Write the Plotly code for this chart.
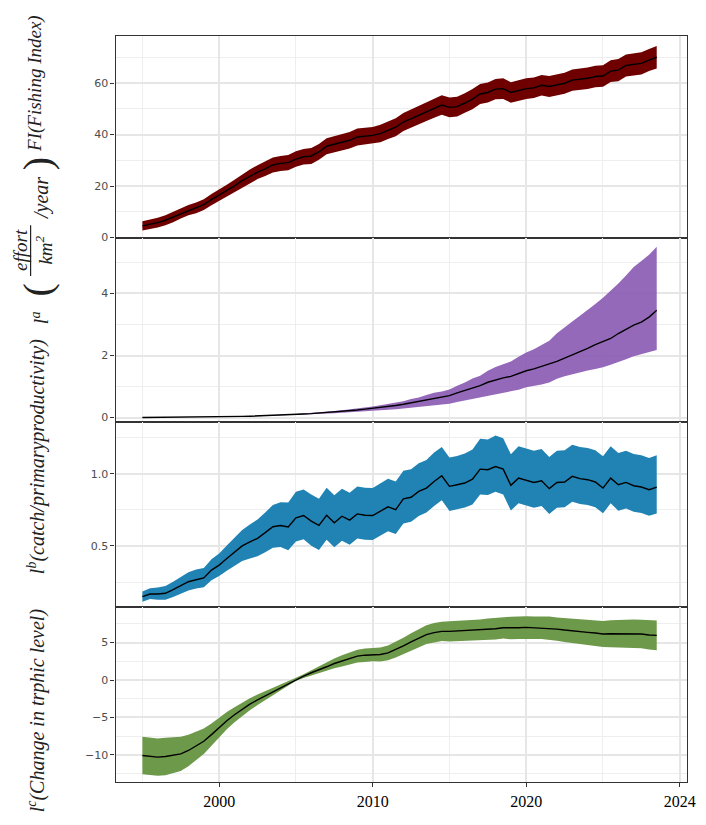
import plotly.graph_objects as go

# ---------------- data ----------------
years = [1995, 1995.5, 1996, 1996.5, 1997, 1997.5, 1998, 1998.5, 1999, 1999.5,
         2000, 2000.5, 2001, 2001.5, 2002, 2002.5, 2003, 2003.5, 2004, 2004.5,
         2005, 2005.5, 2006, 2006.5, 2007, 2007.5, 2008, 2008.5, 2009, 2009.5,
         2010, 2010.5, 2011, 2011.5, 2012, 2012.5, 2013, 2013.5, 2014, 2014.5,
         2015, 2015.5, 2016, 2016.5, 2017, 2017.5, 2018, 2018.5, 2019, 2019.5,
         2020, 2020.5, 2021, 2021.5, 2022, 2022.5, 2023, 2023.5, 2024, 2024.5,
         2025, 2025.5, 2026, 2026.5, 2027, 2027.5, 2028, 2028.5]

# Panel 1: FI (Fishing Index)
fi_mean = [4.5, 5.1, 5.8, 6.7, 7.9, 9.4, 10.6, 11.5, 12.8, 14.7,
           16.4, 18.2, 20.1, 22.1, 23.8, 25.4, 26.7, 28.2, 28.8, 29.1,
           30.5, 31.4, 31.7, 33.3, 35.5, 36.3, 37.2, 37.8, 39.1, 39.5,
           39.7, 40.4, 41.7, 42.9, 44.9, 46.2, 47.7, 49.0, 50.3, 51.5,
           50.6, 50.9, 52.3, 53.8, 55.8, 56.4, 57.7, 57.9, 56.4, 57.3,
           57.9, 58.2, 59.2, 58.7, 59.4, 60.0, 61.2, 61.5, 61.9, 62.6,
           62.8, 64.7, 65.1, 66.9, 67.2, 67.7, 69.0, 70.1]
fi_halfwidth = [1.8, 1.8, 1.9, 1.9, 2.0, 2.0, 2.0, 2.1, 2.1, 2.2,
                2.2, 2.3, 2.4, 2.5, 2.6, 2.7, 2.8, 2.9, 2.9, 3.0,
                3.0, 3.0, 3.1, 3.1, 3.1, 3.2, 3.2, 3.2, 3.3, 3.3,
                3.3, 3.4, 3.4, 3.5, 3.5, 3.6, 3.6, 3.7, 3.7, 3.8,
                3.8, 3.8, 3.8, 3.9, 3.9, 3.9, 3.9, 4.0, 4.0, 4.0,
                4.0, 4.0, 4.0, 4.1, 4.1, 4.1, 4.1, 4.2, 4.2, 4.2,
                4.2, 4.2, 4.3, 4.3, 4.3, 4.3, 4.3, 4.4]

# Panel 2: l^a (effort / km2 / year)
la_mean = [0.005, 0.006, 0.007, 0.008, 0.010, 0.012, 0.014, 0.016, 0.019, 0.022,
           0.026, 0.030, 0.035, 0.040, 0.046, 0.053, 0.061, 0.070, 0.080, 0.091,
           0.103, 0.116, 0.130, 0.146, 0.163, 0.182, 0.202, 0.224, 0.248, 0.274,
           0.300, 0.330, 0.360, 0.392, 0.43, 0.48, 0.52, 0.58, 0.63, 0.66,
           0.71, 0.80, 0.87, 0.96, 1.03, 1.14, 1.22, 1.28, 1.33, 1.43,
           1.51, 1.57, 1.64, 1.73, 1.81, 1.91, 2.02, 2.12, 2.23, 2.35,
           2.44, 2.55, 2.71, 2.85, 2.98, 3.08, 3.24, 3.46]
la_upper = [0.0055, 0.0066, 0.0077, 0.0088, 0.011, 0.013, 0.015, 0.018, 0.021, 0.024,
            0.029, 0.033, 0.039, 0.044, 0.051, 0.059, 0.068, 0.078, 0.089, 0.101,
            0.119, 0.134, 0.151, 0.170, 0.191, 0.214, 0.239, 0.266, 0.296, 0.328,
            0.36, 0.40, 0.44, 0.48, 0.53, 0.60, 0.65, 0.73, 0.80, 0.84,
            0.91, 1.03, 1.13, 1.26, 1.35, 1.51, 1.63, 1.72, 1.81, 1.96,
            2.10, 2.20, 2.33, 2.48, 2.72, 2.92, 3.10, 3.28, 3.46, 3.66,
            3.86, 4.08, 4.32, 4.58, 4.85, 5.05, 5.25, 5.51]
la_lower = [0.0045, 0.0054, 0.0063, 0.0072, 0.009, 0.011, 0.013, 0.014, 0.017, 0.020,
            0.023, 0.027, 0.031, 0.036, 0.041, 0.047, 0.054, 0.062, 0.071, 0.081,
            0.088, 0.097, 0.107, 0.118, 0.129, 0.142, 0.155, 0.170, 0.186, 0.203,
            0.216, 0.234, 0.252, 0.270, 0.292, 0.318, 0.338, 0.37, 0.40, 0.42,
            0.45, 0.50, 0.55, 0.60, 0.65, 0.71, 0.76, 0.80, 0.84, 0.90,
            0.98, 1.02, 1.07, 1.13, 1.25, 1.33, 1.40, 1.46, 1.52, 1.57,
            1.62, 1.70, 1.78, 1.88, 1.98, 2.05, 2.12, 2.18]

# Panel 3: l^b (catch / primary productivity)
lb_mean = [0.149, 0.167, 0.167, 0.172, 0.197, 0.225, 0.252, 0.266, 0.278, 0.333,
           0.367, 0.413, 0.459, 0.500, 0.528, 0.553, 0.592, 0.633, 0.642, 0.631,
           0.695, 0.711, 0.672, 0.642, 0.713, 0.661, 0.706, 0.679, 0.722, 0.713,
           0.711, 0.741, 0.771, 0.752, 0.826, 0.837, 0.878, 0.901, 0.947, 0.986,
           0.913, 0.924, 0.936, 0.963, 1.032, 1.028, 1.050, 1.032, 0.920, 0.970,
           0.954, 0.940, 0.952, 0.897, 0.940, 0.943, 0.982, 0.966, 0.959, 0.943,
           0.901, 0.970, 0.924, 0.940, 0.917, 0.908, 0.890, 0.908]
lb_up_width = [0.035, 0.04, 0.045, 0.05, 0.055, 0.06, 0.065, 0.07, 0.07, 0.075,
               0.08, 0.09, 0.10, 0.11, 0.12, 0.13, 0.14, 0.15, 0.16, 0.17,
               0.18, 0.18, 0.185, 0.185, 0.19, 0.19, 0.19, 0.19, 0.19, 0.19,
               0.19, 0.19, 0.195, 0.195, 0.195, 0.195, 0.195, 0.195, 0.20, 0.20,
               0.20, 0.20, 0.205, 0.205, 0.21, 0.21, 0.215, 0.215, 0.215, 0.22,
               0.22, 0.22, 0.22, 0.22, 0.22, 0.22, 0.22, 0.22, 0.22, 0.22,
               0.22, 0.22, 0.22, 0.22, 0.22, 0.22, 0.22, 0.22]
lb_low_width = [0.035, 0.035, 0.04, 0.045, 0.05, 0.055, 0.06, 0.06, 0.065, 0.07,
                0.075, 0.085, 0.095, 0.105, 0.115, 0.125, 0.135, 0.145, 0.15, 0.16,
                0.165, 0.165, 0.17, 0.17, 0.17, 0.17, 0.17, 0.17, 0.17, 0.17,
                0.17, 0.17, 0.17, 0.17, 0.17, 0.17, 0.17, 0.17, 0.17, 0.17,
                0.17, 0.17, 0.17, 0.175, 0.175, 0.175, 0.175, 0.175, 0.175, 0.175,
                0.175, 0.175, 0.175, 0.175, 0.175, 0.175, 0.175, 0.175, 0.175, 0.175,
                0.175, 0.175, 0.18, 0.18, 0.18, 0.18, 0.18, 0.183]

# Panel 4: l^c (change in trophic level)
lc_mean = [-10.09, -10.18, -10.31, -10.22, -10.09, -9.87, -9.42, -8.85, -8.19, -7.30,
           -6.33, -5.44, -4.65, -3.89, -3.23, -2.65, -2.12, -1.55, -1.02, -0.44,
           0.09, 0.53, 0.97, 1.33, 1.77, 2.21, 2.57, 2.88, 3.19, 3.32,
           3.41, 3.41, 3.63, 4.07, 4.56, 5.09, 5.62, 6.06, 6.33, 6.50,
           6.50, 6.55, 6.59, 6.64, 6.68, 6.77, 6.86, 6.99, 6.95, 6.99,
           7.04, 6.99, 6.99, 6.95, 6.81, 6.68, 6.55, 6.46, 6.37, 6.28,
           6.15, 6.19, 6.19, 6.15, 6.19, 6.15, 6.02, 5.97]
lc_halfwidth = [2.5, 2.5, 2.5, 2.5, 2.4, 2.3, 2.1, 1.9, 1.7, 1.5,
                1.3, 1.15, 1.0, 0.9, 0.8, 0.7, 0.6, 0.5, 0.4, 0.3,
                0.2, 0.25, 0.35, 0.45, 0.55, 0.65, 0.75, 0.8, 0.85, 0.9,
                0.9, 0.95, 1.0, 1.05, 1.1, 1.15, 1.2, 1.25, 1.3, 1.3,
                1.35, 1.35, 1.4, 1.4, 1.4, 1.45, 1.45, 1.45, 1.5, 1.5,
                1.5, 1.5, 1.5, 1.55, 1.55, 1.6, 1.6, 1.65, 1.7, 1.7,
                1.75, 1.8, 1.85, 1.85, 1.9, 1.9, 1.95, 2.0]

x_tickvals = [2000, 2010, 2020, 2030]
x_ticktext = ["2000", "2010", "2020", "2024"]

for arr in [fi_mean, fi_halfwidth, la_mean, la_upper, la_lower, lb_mean,
            lb_up_width, lb_low_width, lc_mean, lc_halfwidth]:
    assert len(arr) == len(years), len(arr)

# ---------------- figure ----------------
W, H = 706, 825
X0, X1 = 117, 696
panels_px = [(36, 240), (240, 425.5), (425.5, 611), (611, 788)]


def fx(xp):
    return xp / W


def fy(yp):
    return 1 - yp / H


fig = go.Figure()

bands = [
    (fi_mean, [m - h for m, h in zip(fi_mean, fi_halfwidth)],
     [m + h for m, h in zip(fi_mean, fi_halfwidth)], "#6E0000"),
    (la_mean, la_lower, la_upper, "rgba(140,92,180,0.92)"),
    (lb_mean, [m - h for m, h in zip(lb_mean, lb_low_width)],
     [m + h for m, h in zip(lb_mean, lb_up_width)], "#2183B4"),
    (lc_mean, [m - h for m, h in zip(lc_mean, lc_halfwidth)],
     [m + h for m, h in zip(lc_mean, lc_halfwidth)], "#6D994A"),
]

for i, (mean, lo, hi, col) in enumerate(bands):
    xa = "x" if i == 0 else f"x{i+1}"
    ya = "y" if i == 0 else f"y{i+1}"
    fig.add_trace(go.Scatter(x=years, y=lo, xaxis=xa, yaxis=ya, mode="lines",
                             line=dict(width=0, color=col), showlegend=False,
                             hoverinfo="skip"))
    fig.add_trace(go.Scatter(x=years, y=hi, xaxis=xa, yaxis=ya, mode="lines",
                             line=dict(width=0, color=col), fill="tonexty",
                             fillcolor=col, showlegend=False, hoverinfo="skip"))
    fig.add_trace(go.Scatter(x=years, y=mean, xaxis=xa, yaxis=ya, mode="lines",
                             line=dict(width=1.4, color="black"),
                             showlegend=False))

y_settings = [
    dict(range=[-0.3, 78.46], tickvals=[0, 20, 40, 60], ticktext=["0", "20", "40", "60"],
         minor=dict(tick0=0, dtick=10)),
    dict(range=[-0.154, 5.78], tickvals=[0, 2, 4], ticktext=["0", "2", "4"],
         minor=dict(tick0=0, dtick=1)),
    dict(range=[0.080, 1.356], tickvals=[0.5, 1.0], ticktext=["0.5", "1.0"],
         minor=dict(tick0=0, dtick=0.25)),
    dict(range=[-13.67, 9.82], tickvals=[-10, -5, 0, 5],
         ticktext=["\u221210", "\u22125", "0", "5"],
         minor=dict(tick0=0, dtick=2.5)),
]

GRID = "#E6E6E6"
MINGRID = "#EEEEEE"
FRAME = "#333333"

layout = dict(width=W, height=H, margin=dict(l=0, r=0, t=0, b=0),
              paper_bgcolor="white", plot_bgcolor="white", showlegend=False)

for i in range(4):
    top, bot = panels_px[i]
    xs = "xaxis" if i == 0 else f"xaxis{i+1}"
    ys = "yaxis" if i == 0 else f"yaxis{i+1}"
    ya = "y" if i == 0 else f"y{i+1}"
    xa = "x" if i == 0 else f"x{i+1}"
    last = (i == 3)
    layout[xs] = dict(
        domain=[fx(X0), fx(X1)], anchor=ya, range=[1993.25, 2030.48],
        tickmode="array", tickvals=x_tickvals, ticktext=x_ticktext,
        showticklabels=last, ticks="outside" if last else "",
        ticklen=4, tickwidth=1.2, tickcolor=FRAME, ticklabeloverflow="allow",
        tickfont=dict(family="Liberation Serif", size=16, color="black"),
        showgrid=True, gridcolor=GRID, gridwidth=1.6,
        minor=dict(tick0=1995, dtick=5, showgrid=True, gridcolor=MINGRID, gridwidth=1.2),
        showline=True, mirror=True, linecolor=FRAME, linewidth=1.3,
        zeroline=False, fixedrange=True,
    )
    if i > 0:
        layout[xs]["matches"] = "x"
    ysd = y_settings[i]
    layout[ys] = dict(
        domain=[fy(bot), fy(top)], anchor=xa, range=ysd["range"],
        tickmode="array", tickvals=ysd["tickvals"], ticktext=ysd["ticktext"],
        ticks="outside", ticklen=4, tickwidth=1.2, tickcolor=FRAME,
        tickfont=dict(family="DejaVu Sans", size=11, color="#4D4D4D"),
        showgrid=True, gridcolor=GRID, gridwidth=1.6,
        minor=dict(tick0=ysd["minor"]["tick0"], dtick=ysd["minor"]["dtick"],
                   showgrid=True, gridcolor=MINGRID, gridwidth=1.2),
        showline=True, mirror=True, linecolor=FRAME, linewidth=1.3,
        zeroline=False, fixedrange=True,
    )

fig.update_layout(**layout)

LABEL_FONT = "Liberation Serif"
LABEL_COL = "#222222"


def add_label(text, xp, yp, size):
    fig.add_annotation(text=text, x=fx(xp), y=fy(yp), xref="paper", yref="paper",
                       showarrow=False, textangle=-90, xanchor="center",
                       yanchor="middle",
                       font=dict(family=LABEL_FONT, size=size, color=LABEL_COL))


add_label("<i>FI(Fishing Index)</i>", 36, 84, 19)
# composite label with a fraction: l^a ( effort / km^2 / year )
add_label("<i>l<sup>a</sup></i>", 40, 320, 20)
add_label("(", 38, 292, 40)
add_label("<i>effort</i>", 20, 252, 19)
add_label("<i>km<sup>2</sup></i>", 45, 252, 19)
add_label("<i>/year</i>", 42, 199, 20)
add_label(")", 38, 165, 40)
fig.add_shape(type="line", xref="paper", yref="paper",
              x0=fx(31), x1=fx(31), y0=fy(227), y1=fy(278),
              line=dict(color=LABEL_COL, width=1.2))
add_label("<i>l<sup>b</sup>(catch/primaryproductivity)</i>", 37, 460, 20)
add_label("<i>l<sup>c</sup>(Change in trphic level)</i>", 37, 716, 20)

# remove the default 8px page margin so the 706x825 figure fills the window
fig.write_html("out.html",
               config={"displayModeBar": False},
               post_script="document.body.style.margin='0';"
                           "document.body.style.overflow='hidden';")
